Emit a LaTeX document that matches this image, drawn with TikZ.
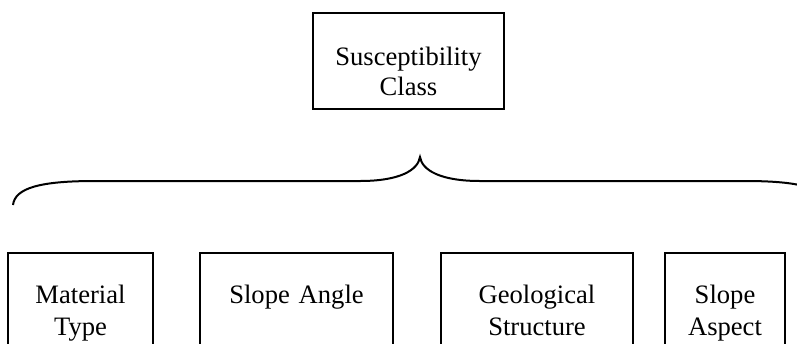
\documentclass[tikz,border=0pt]{standalone}
\usepackage{fontspec}
\setmainfont{Liberation Serif}
\usetikzlibrary{positioning}

\begin{document}
\begin{tikzpicture}[
    x=0.5pt, y=-0.5pt,
    node distance=0pt and 22.5pt,
    box/.style={draw, line width=1pt, inner sep=0pt, align=center},
    factor/.style={box, text height=25pt, text depth=45pt, font=\fontsize{13.3}{16}\selectfont},
    brace/.style={line width=1pt}
]
\useasboundingbox (0,0) rectangle (797,343);
\node[box, anchor=base, text width=95.5pt, text height=26pt, text depth=22pt, font=\fontsize{13.3}{15}\selectfont] (cls) at (408.5,65) {Susceptibility\\Class};

\node[factor, anchor=base, text width=72.5pt] (mat) at (80.5,303) {Material\\Type};
\node[factor, right=22.5pt of mat, text width=96.5pt] (ang) {Slope Angle};
\node[factor, right=23pt of ang, text width=96pt] (geo) {Geological\\Structure};
\node[factor, right=15pt of geo, text width=60pt] (asp) {Slope\\Aspect};

\draw[brace] (13,205) .. controls (15,188) and (40,181) .. (95,181) -- (360,181)
    .. controls (400,181) and (418,170) .. (420,157)
    .. controls (422,170) and (440,181) .. (480,181) -- (745,181)
    .. controls (800,181) and (825,188) .. (827,205);
\end{tikzpicture}
\end{document}
